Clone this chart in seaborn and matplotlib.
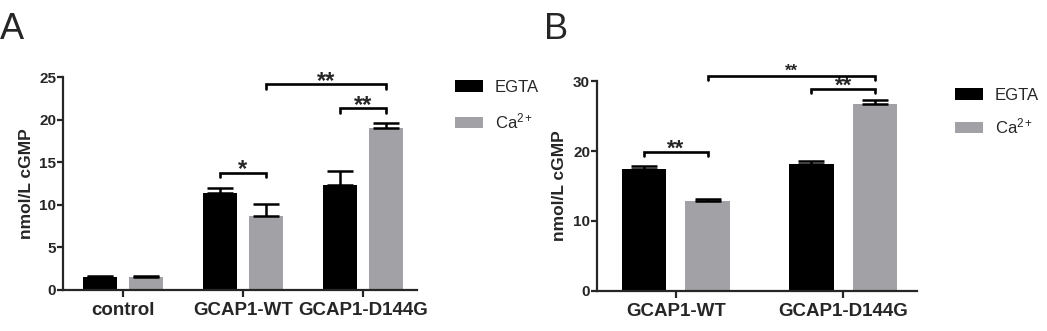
import numpy as np
import pandas as pd
import matplotlib
matplotlib.use("Agg")
import matplotlib.pyplot as plt
import seaborn as sns
from matplotlib.patches import Patch

# ---------------- data ----------------
conditions = ["EGTA", "Ca$^{2+}$"]

groups_a = ["control", "GCAP1-WT", "GCAP1-D144G"]
egta_a = [1.5, 11.45, 12.4]
egta_a_err = [0.15, 0.5, 1.6]
ca_a = [1.5, 8.7, 19.1]
ca_a_err = [0.1, 1.4, 0.6]

groups_b = ["GCAP1-WT", "GCAP1-D144G"]
egta_b = [17.4, 18.1]
egta_b_err = [0.5, 0.5]
ca_b = [12.85, 26.7]
ca_b_err = [0.25, 0.6]

yticks_a = [0, 5, 10, 15, 20, 25]
yticks_b = [0, 10, 20, 30]

# significance brackets: ((group, hue), (group, hue), height, label)
sig_a = [((1, 0), (1, 1), 13.8, "*"),
         ((2, 0), (2, 1), 21.35, "**"),
         ((1, 1), (2, 1), 24.2, "**")]
sig_b = [((0, 0), (0, 1), 19.9, "**"),
         ((1, 0), (1, 1), 28.85, "**"),
         ((0, 1), (1, 1), 30.7, "**")]

BLACK = "#000000"
GRAY = "#a2a2a6"

sns.set_style("ticks")
plt.rcParams["font.family"] = ["Liberation Sans", "DejaVu Sans"]
plt.rcParams["mathtext.fontset"] = "custom"
plt.rcParams["mathtext.rm"] = "Liberation Sans"
plt.rcParams["mathtext.it"] = "Liberation Sans"
plt.rcParams["mathtext.bf"] = "Liberation Sans:bold"

fig = plt.figure(figsize=(10.47, 3.31), dpi=100)
ax_a = fig.add_axes([0.0602, 0.124, 0.338, 0.642])
ax_b = fig.add_axes([0.5702, 0.121, 0.3056, 0.634])


def make_df(groups, e, c):
    rows = []
    for g, v in zip(groups, e):
        rows.append((g, conditions[0], v))
    for g, v in zip(groups, c):
        rows.append((g, conditions[1], v))
    return pd.DataFrame(rows, columns=["group", "cond", "value"])


def draw_panel(ax, groups, e, ee, c, ce, gap, yticks, ylim, xlim, sigs,
               tick_drop, star_sizes):
    df = make_df(groups, e, c)
    sns.barplot(data=df, x="group", y="value", hue="cond",
                order=groups, hue_order=conditions,
                palette=[BLACK, GRAY], width=0.76, gap=gap,
                errorbar=None, saturation=1, legend=False, ax=ax,
                edgecolor="none", linewidth=0, zorder=2)
    centers = []
    for cont, vals, errs in zip(ax.containers, [e, c], [ee, ce]):
        xs = [b.get_x() + b.get_width() / 2 for b in cont]
        centers.append(xs)
        ax.errorbar(xs, vals, yerr=[np.zeros(len(vals)), errs], fmt="none",
                    ecolor="black", elinewidth=1.8, capsize=9.5,
                    capthick=1.8, zorder=3)
    ax.set_xlim(*xlim)
    ax.set_ylim(*ylim)
    ax.set_yticks(yticks, labels=[str(t) for t in yticks],
                  fontweight="bold", fontsize=11)
    ax.set_xticks(range(len(groups)), labels=groups,
                  fontweight="bold", fontsize=13.5)
    ax.set_xlabel("")
    ax.set_ylabel("nmol/L cGMP", fontsize=12.5, fontweight="bold", labelpad=4)
    for s in ["top", "right"]:
        ax.spines[s].set_visible(False)
    for s in ["left", "bottom"]:
        ax.spines[s].set_linewidth(1.6)
    ax.tick_params(axis="y", width=1.6, length=4, pad=1)
    ax.tick_params(axis="x", width=1.6, length=5, pad=4)
    for (p1, p2, h, lab), fs in zip(sigs, star_sizes):
        x1 = centers[p1[1]][p1[0]]
        x2 = centers[p2[1]][p2[0]]
        ax.plot([x1, x1, x2, x2], [h - tick_drop, h, h, h - tick_drop],
                color="black", lw=1.9, clip_on=False, zorder=4,
                solid_joinstyle="miter")
        ax.annotate(lab, xy=((x1 + x2) / 2, h), xytext=(0, -(0.57 * fs - 7.2)),
                    textcoords="offset points", ha="center", va="baseline",
                    fontsize=fs, fontweight="bold", annotation_clip=False)


draw_panel(ax_a, groups_a, egta_a, egta_a_err, ca_a, ca_a_err, 0.255,
           yticks_a, (0, 25), (-0.5, 2.45), sig_a, 0.5, [17, 17, 17])
draw_panel(ax_b, groups_b, egta_b, egta_b_err, ca_b, ca_b_err, 0.30,
           yticks_b, (0, 30), (-0.47, 1.44), sig_b, 0.6, [16, 16, 12])

handles = [Patch(facecolor=BLACK, edgecolor="none"),
           Patch(facecolor=GRAY, edgecolor="none")]
for anchor, spacing in [((0.4346, 0.759), 1.0), ((0.912, 0.735), 0.82)]:
    fig.legend(handles, conditions, loc="upper left", bbox_to_anchor=anchor,
               frameon=False, fontsize=12, handlelength=1.7, handleheight=0.72,
               handletextpad=0.7, labelspacing=spacing, borderpad=0,
               borderaxespad=0)

fig.text(0.0, 0.965, "A", fontsize=26, va="top", ha="left")
fig.text(0.52, 0.965, "B", fontsize=26, va="top", ha="left")

fig.savefig("out.png", dpi=100)
